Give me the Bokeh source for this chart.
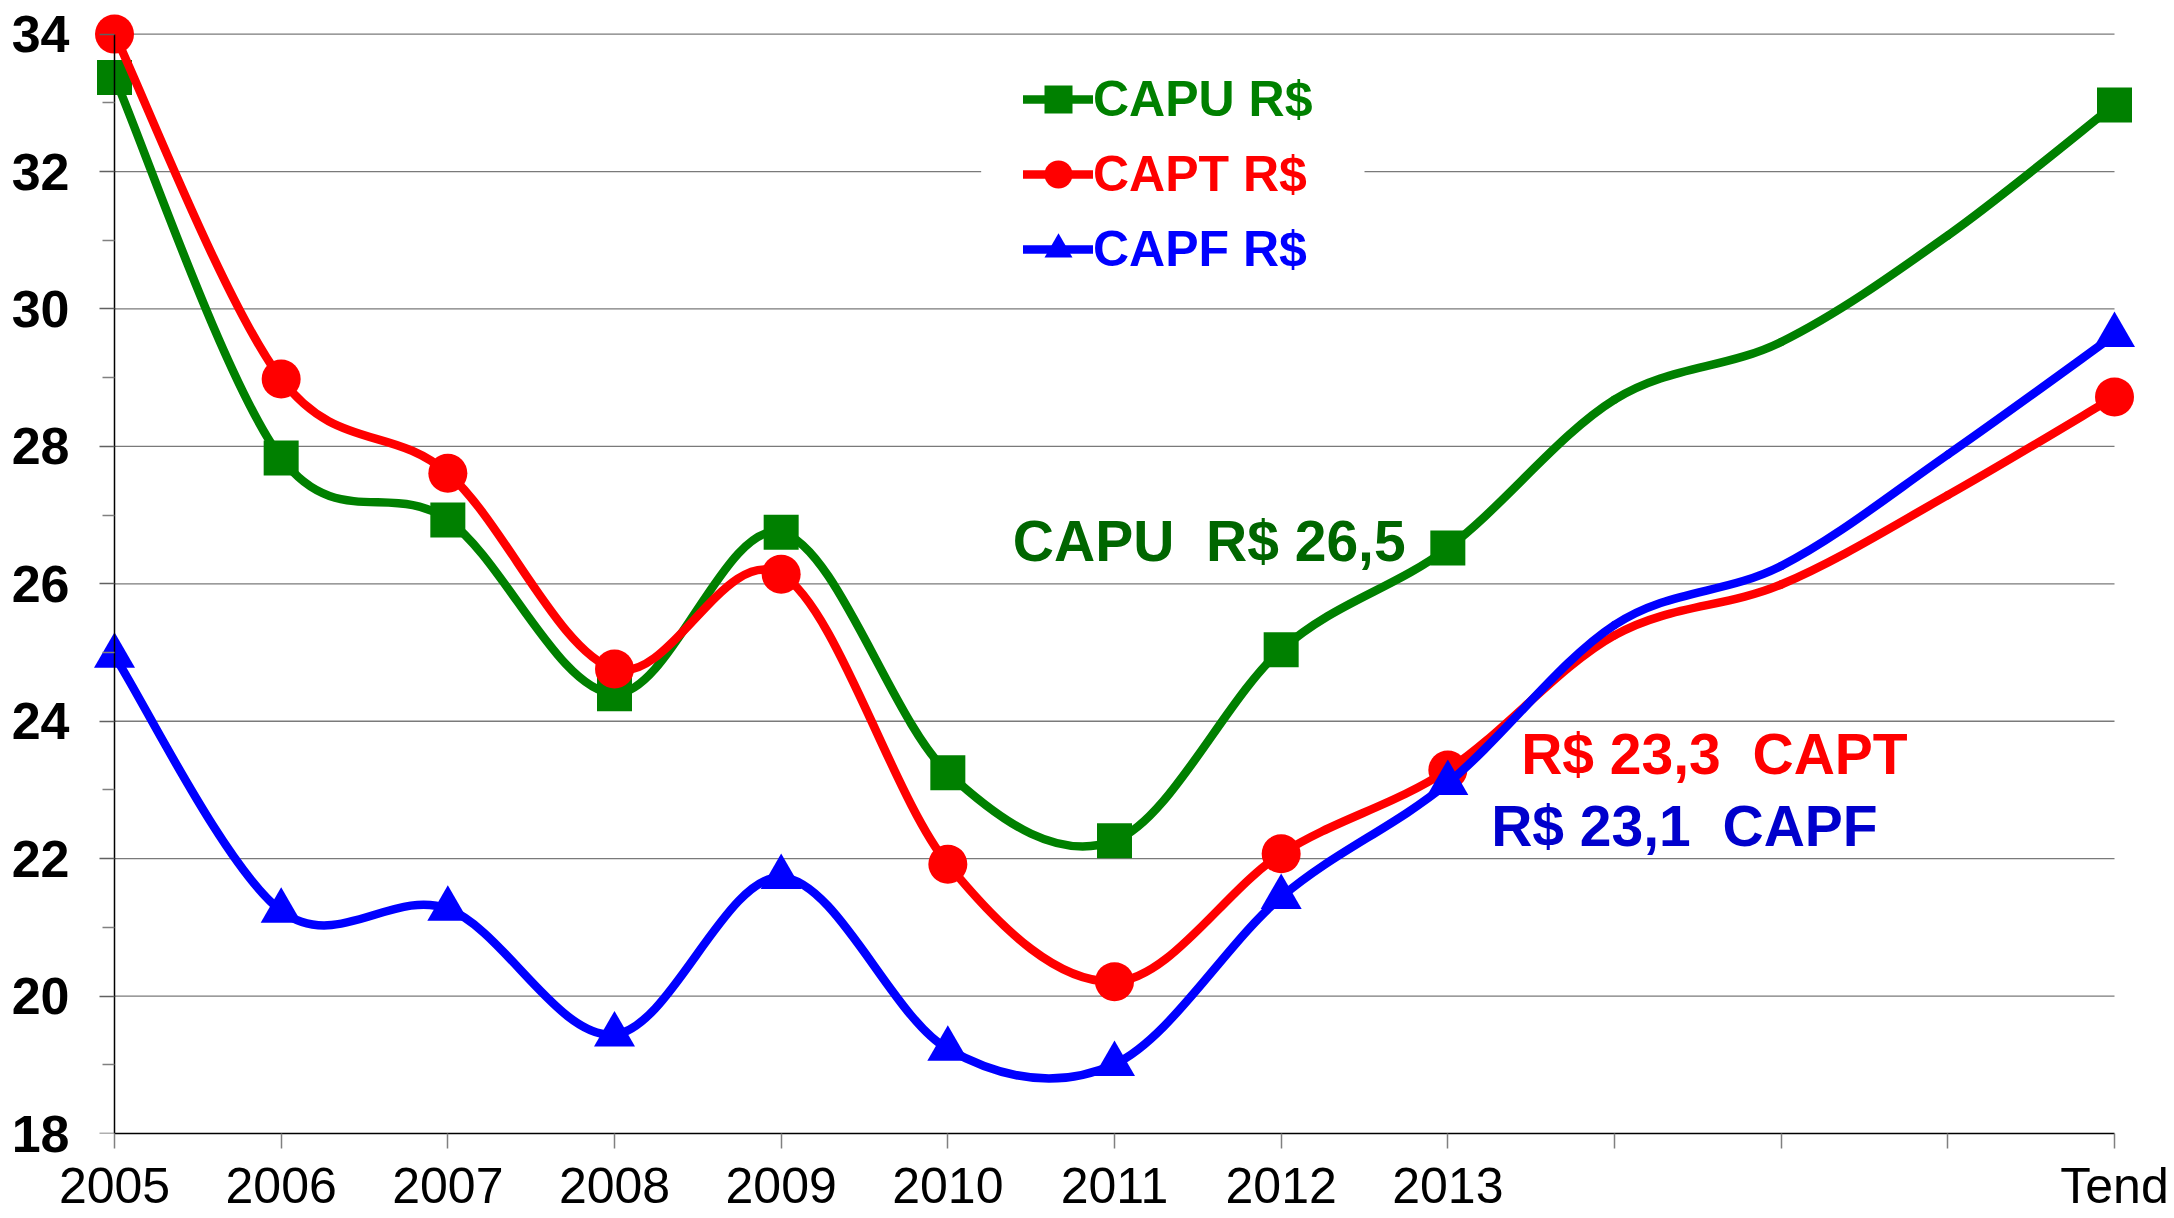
import numpy as np
from bokeh.plotting import figure
from bokeh.models import (FixedTicker, Legend, LegendItem, Label, BoxAnnotation,
                          Range1d, ColumnDataSource, LinearAxis, CustomJSTickFormatter)
from bokeh.embed import file_html
from bokeh.resources import INLINE

# ---------------- data ----------------
x_labels = ["2005", "2006", "2007", "2008", "2009", "2010", "2011", "2012", "2013",
            "", "", "", "Tend"]
capu = [33.37, 27.83, 26.93, 24.40, 26.75, 23.25, 22.26, 25.04, 26.52, 28.68, 29.52, 31.07, 32.97]
capt = [34.00, 28.98, 27.61, 24.76, 26.14, 21.92, 20.21, 22.07, 23.29, 25.25, 25.99, 27.29, 28.72]
capf = [24.95, 21.24, 21.27, 19.44, 21.73, 19.23, 19.01, 21.44, 23.10, 25.40, 26.26, 27.88, 29.62]
series_names = ["CAPU R$", "CAPT R$", "CAPF R$"]
y_ticks = [18, 20, 22, 24, 26, 28, 30, 32, 34]
notes = ["CAPU\u00a0 R$ 26,5", "R$ 23,3\u00a0 CAPT", "R$ 23,1\u00a0 CAPF"]

FONT = "Liberation Sans"
colors = ["#008000", "#FF0000", "#0000FF"]
note_colors = ["#006600", "#FF0000", "#0000CC"]
markers = ["square", "circle", "triangle"]
msizes = [35, 39, 41]

xs = list(range(len(x_labels)))
marker_idx = [i for i, l in enumerate(x_labels) if l]


def bezier_source(xv, yv):
    x = np.asarray(xv, float)
    y = np.asarray(yv, float)
    n = len(x)
    xp = np.concatenate([[x[0]], x, [x[-1]]])
    yp = np.concatenate([[y[0]], y, [y[-1]]])
    cx0 = x[:-1] + (xp[2:n + 1] - xp[0:n - 1]) / 6.0
    cy0 = y[:-1] + (yp[2:n + 1] - yp[0:n - 1]) / 6.0
    cx1 = x[1:] - (xp[3:n + 2] - xp[1:n]) / 6.0
    cy1 = y[1:] - (yp[3:n + 2] - yp[1:n]) / 6.0
    return ColumnDataSource(dict(x0=x[:-1], y0=y[:-1], x1=x[1:], y1=y[1:],
                                 cx0=cx0, cy0=cy0, cx1=cx1, cy1=cy1))


XPAD = 0.15
YPAD = 0.3
p = figure(width=2172, height=1216,
           x_range=Range1d(xs[0] - XPAD, xs[-1] + XPAD),
           y_range=Range1d(y_ticks[0], y_ticks[-1] + YPAD),
           output_backend="svg", toolbar_location=None,
           min_border_left=89, min_border_right=33, min_border_top=13, min_border_bottom=80)
p.outline_line_color = None
p.background_fill_color = "white"
p.border_fill_color = "white"

# x axis (bottom of frame == 18)
p.xaxis.bounds = (xs[0], xs[-1])
p.xaxis.ticker = FixedTicker(ticks=xs)
p.xaxis.major_label_overrides = {i: l for i, l in enumerate(x_labels)}
p.xaxis.major_label_text_font = FONT
p.xaxis.major_label_text_font_size = "50px"
p.xaxis.major_label_text_color = "black"
p.xaxis.major_label_standoff = 9
p.xaxis.major_tick_out = 15
p.xaxis.major_tick_in = 0
p.xaxis.minor_tick_line_color = None
p.xaxis.major_tick_line_color = "#808080"
p.xaxis.major_tick_line_width = 1.5
p.xaxis.axis_line_color = "black"
p.xaxis.axis_line_width = 1.5

# y axis labels (frame edge axis, only labels shown)
p.yaxis.ticker = FixedTicker(ticks=y_ticks)
p.yaxis.major_label_text_font = FONT
p.yaxis.major_label_text_font_size = "52px"
p.yaxis.major_label_text_font_style = "bold"
p.yaxis.major_label_text_color = "black"
p.yaxis.major_label_standoff = 20
p.yaxis.major_tick_out = 0
p.yaxis.major_tick_in = 0
p.yaxis.minor_tick_out = 0
p.yaxis.minor_tick_in = 0
p.yaxis.major_tick_line_color = None
p.yaxis.minor_tick_line_color = None
p.yaxis.axis_line_color = None

# y axis line + ticks pinned at the first category
yline = LinearAxis(fixed_location=xs[0], bounds=(y_ticks[0], y_ticks[-1]),
                   ticker=FixedTicker(ticks=y_ticks, minor_ticks=[t + 1 for t in y_ticks[:-1]]),
                   formatter=CustomJSTickFormatter(code="return ''"),
                   major_tick_out=15, major_tick_in=0, minor_tick_out=12, minor_tick_in=0,
                   major_tick_line_color="#606060", minor_tick_line_color="#808080",
                   major_tick_line_width=1.5, minor_tick_line_width=1.5,
                   axis_line_color="black", axis_line_width=1.5)
p.add_layout(yline, "left")

# horizontal gridlines limited to the category span
p.xgrid.grid_line_color = None
p.ygrid.grid_line_color = None
grid_y = y_ticks[1:]
p.segment(x0=[xs[0]] * len(grid_y), x1=[xs[-1]] * len(grid_y), y0=grid_y, y1=grid_y,
          line_color="#7a7a7a", line_width=1.3, level="image")

# white box behind legend (hides gridline)
p.add_layout(BoxAnnotation(left=5.2, right=7.5, top=33.75, bottom=30.4,
                           fill_color="white", fill_alpha=1.0, line_alpha=0,
                           level="underlay"), "center")

renderers = []
for vals, c, m, s in zip([capu, capt, capf], colors, markers, msizes):
    src = bezier_source(xs, vals)
    lr = p.bezier(x0="x0", y0="y0", x1="x1", y1="y1", cx0="cx0", cy0="cy0",
                  cx1="cx1", cy1="cy1", source=src, line_color=c, line_width=8.5,
                  line_cap="round", line_join="round")
    mx = [xs[i] for i in marker_idx]
    my = [vals[i] for i in marker_idx]
    sr = p.scatter(mx, my, marker=m, size=s, fill_color=c, line_color=c, line_width=0)
    renderers.append((lr, sr))

# legends (one per series, to color each label)
leg_y = [995, 920, 845]
for (lr, sr), name, c, ly in zip(renderers, series_names, colors, leg_y):
    leg = Legend(items=[LegendItem(label=name, renderers=[lr, sr])],
                 location=(934, ly), orientation="vertical",
                 label_text_font=FONT, label_text_font_size="50px",
                 label_text_font_style="bold", label_text_color=c,
                 glyph_width=70, glyph_height=78, label_height=78,
                 label_standoff=0, padding=0, margin=0, spacing=0,
                 border_line_alpha=0, background_fill_alpha=0)
    p.add_layout(leg, "center")

# value notes
note_pos = [(5.39, 26.63), (8.44, 23.53), (8.26, 22.48)]
for t, c, (nx, ny) in zip(notes, note_colors, note_pos):
    p.add_layout(Label(x=nx, y=ny, text=t, text_font=FONT, text_font_size="57px",
                       text_font_style="bold", text_color=c,
                       text_align="left", text_baseline="alphabetic"))

open("out.html", "w").write(file_html(p, INLINE))
